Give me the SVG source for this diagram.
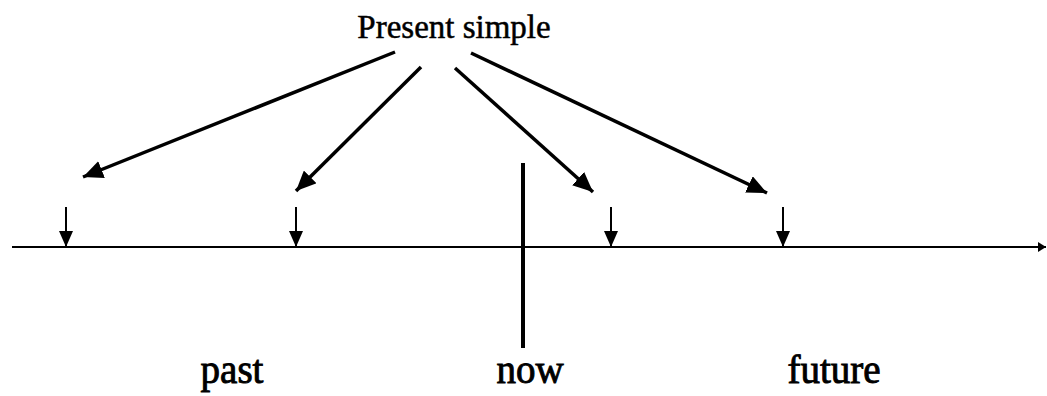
<svg xmlns="http://www.w3.org/2000/svg" width="1047" height="396" viewBox="0 0 1047 396">
<style>
.t{font-family:"Liberation Serif","Times New Roman",serif;fill:#000;stroke:#000;text-anchor:middle}
.big{stroke:#000;stroke-width:3.5;fill:none;marker-end:url(#ah)}
.tick{stroke:#000;stroke-width:2;fill:none;marker-end:url(#sh)}
</style>
<defs>
<marker id="ah" markerUnits="userSpaceOnUse" markerWidth="22" markerHeight="18" refX="20" refY="9" orient="auto"><path d="M0,0 L20,9 L0,18 Z" fill="#000"/></marker>
<marker id="sh" markerUnits="userSpaceOnUse" markerWidth="16" markerHeight="16" refX="16" refY="7" orient="auto"><path d="M0,0 L16,7 L0,14 Z" fill="#000"/></marker>
<marker id="eh" markerUnits="userSpaceOnUse" markerWidth="8" markerHeight="10" refX="8" refY="5" orient="auto"><path d="M0,0 L8,5 L0,10 Z" fill="#000"/></marker>
</defs>
<rect width="1047" height="396" fill="#fff"/>
<g id="title"><text class="t" x="454" y="38" font-size="33" stroke-width="0.5">Present simple</text></g>
<g id="timeline"><line x1="12" y1="247" x2="1046" y2="247" stroke="#000" stroke-width="2" marker-end="url(#eh)"/></g>
<g id="now-line"><line x1="523" y1="163" x2="523" y2="348" stroke="#000" stroke-width="4"/></g>
<g id="connectors">
<line class="big" x1="395" y1="52" x2="83" y2="177"/>
<line class="big" x1="421" y1="67" x2="296" y2="191"/>
<line class="big" x1="455" y1="68" x2="593" y2="192"/>
<line class="big" x1="471" y1="53" x2="767" y2="193"/>
<line class="tick" x1="66" y1="207" x2="66" y2="247"/>
<line class="tick" x1="296" y1="207" x2="296" y2="247"/>
<line class="tick" x1="611" y1="207" x2="611" y2="247"/>
<line class="tick" x1="783" y1="207" x2="783" y2="247"/>
</g>
<g id="past"><text class="t" x="232" y="383" font-size="39" stroke-width="0.9">past</text></g>
<g id="now"><text class="t" x="530" y="383" font-size="39" stroke-width="0.9">now</text></g>
<g id="future"><text class="t" x="834" y="383" font-size="39" stroke-width="0.9">future</text></g>
</svg>
